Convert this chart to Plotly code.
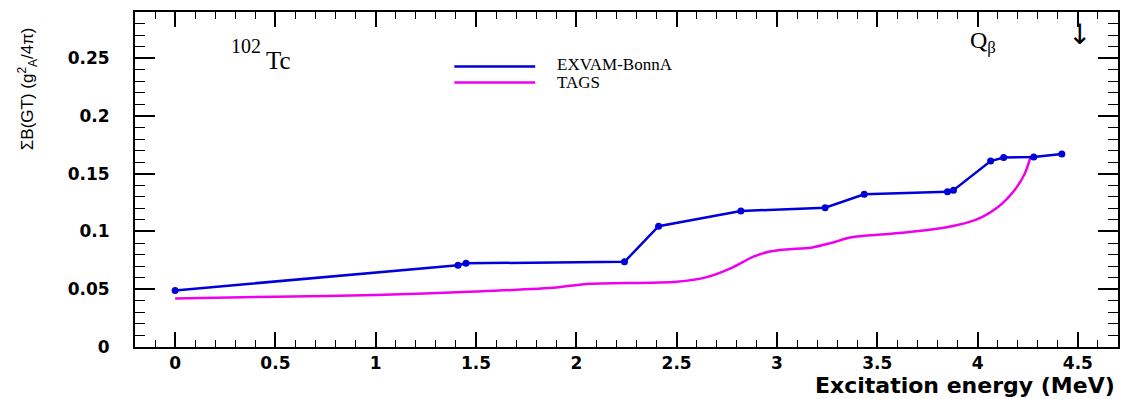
import plotly.graph_objects as go

# ---- data ----
exvam_x = [0.0, 1.41, 1.45, 2.24, 2.41, 2.82, 3.24, 3.435, 3.85, 3.88, 4.065, 4.13, 4.28, 4.42]
exvam_y = [0.049, 0.0708, 0.0725, 0.0737, 0.1046, 0.1178, 0.1205, 0.1322, 0.1343, 0.1358, 0.161, 0.164, 0.1645, 0.167]

tags_x = [0.0, 0.5, 1.0, 1.5, 1.9, 2.05, 2.5, 2.65, 2.78, 2.88, 2.96, 3.05, 3.17, 3.27, 3.37, 3.57, 3.84, 3.99, 4.10, 4.185, 4.235, 4.265]
tags_y = [0.042, 0.0435, 0.045, 0.048, 0.0515, 0.0545, 0.0565, 0.0605, 0.069, 0.078, 0.0825, 0.0845, 0.086, 0.090, 0.095, 0.098, 0.1035, 0.110, 0.121, 0.136, 0.150, 0.165]

x_ticks = [0, 0.5, 1, 1.5, 2, 2.5, 3, 3.5, 4, 4.5]
x_ticktext = ["0", "0.5", "1", "1.5", "2", "2.5", "3", "3.5", "4", "4.5"]
y_ticks = [0, 0.05, 0.1, 0.15, 0.2, 0.25]
y_ticktext = ["0", "0.05", "0.1", "0.15", "0.2", "0.25"]

series_names = ["EXVAM-BonnA", "TAGS"]
series_colors = ["#0000d8", "#ee00ee"]
q_beta = 4.51

fig = go.Figure()
fig.add_trace(go.Scatter(x=tags_x, y=tags_y, mode="lines", name=series_names[1],
                         line=dict(color=series_colors[1], width=2.5, shape="spline", smoothing=0.8)))
fig.add_trace(go.Scatter(x=exvam_x, y=exvam_y, mode="lines+markers", name=series_names[0],
                         line=dict(color=series_colors[0], width=2.5),
                         marker=dict(color=series_colors[0], size=7, symbol="circle")))

L, R, T, B = 135, 2, 12, 52
W, H = 1122, 399
pw, ph = W - L - R, H - T - B

def px(xp):
    return (xp - L) / pw

def py(yp):
    return (H - B - yp) / ph

# legend (drawn manually to match long line samples)
for i, (name, col) in enumerate(zip(series_names, series_colors)):
    yl = [66.5, 82.5][i]
    fig.add_shape(type="line", xref="paper", yref="paper",
                  x0=px(455), x1=px(536), y0=py(yl), y1=py(yl),
                  line=dict(color=col, width=2.5))
    fig.add_annotation(xref="paper", yref="paper", x=px(556), y=py([64, 82][i]),
                       text=name, showarrow=False, xanchor="left", yanchor="middle",
                       font=dict(family="Liberation Serif", size=17, color="black"))

# 102Tc label
fig.add_annotation(xref="paper", yref="paper", x=px(229), y=py(46), text="102",
                   showarrow=False, xanchor="left", yanchor="middle",
                   font=dict(family="Liberation Serif", size=20, color="black"))
fig.add_annotation(xref="paper", yref="paper", x=px(264), y=py(60), text="Tc",
                   showarrow=False, xanchor="left", yanchor="middle",
                   font=dict(family="Liberation Serif", size=25, color="black"))

# Q beta label and arrow
fig.add_annotation(xref="paper", yref="paper", x=px(970), y=py(42), text="Q<sub>β</sub>",
                   showarrow=False, xanchor="left", yanchor="middle",
                   font=dict(family="Liberation Serif", size=24, color="black"))
fig.add_annotation(xref="x", yref="paper", x=q_beta, y=py(34), text="↓",
                   showarrow=False, xanchor="center", yanchor="middle",
                   font=dict(family="DejaVu Sans", size=28, color="black"))

# y axis title
fig.add_annotation(xref="paper", yref="paper", x=px(27), y=py(89),
                   text="ΣB(GT) (g<sup>2</sup><sub>A</sub>/4π)", textangle=-90,
                   showarrow=False, xanchor="center", yanchor="middle",
                   font=dict(family="Liberation Sans", size=17, color="black"))
# x axis title
fig.add_annotation(xref="paper", yref="paper", x=px(1119), y=py(385),
                   text="Excitation energy (MeV)", showarrow=False,
                   xanchor="right", yanchor="middle",
                   font=dict(family="DejaVu Sans", size=22, color="black", weight="bold"))

fig.update_xaxes(range=[-0.2, 4.7], tickvals=x_ticks, ticktext=x_ticktext,
                 ticks="inside", ticklen=15, tickwidth=1.5, tickcolor="black",
                 showline=True, linecolor="black", linewidth=2, mirror="allticks",
                 showgrid=False, zeroline=False, ticklabelstandoff=0,
                 tickfont=dict(family="DejaVu Sans", size=17, color="black", weight="bold"),
                 minor=dict(dtick=0.1, tick0=0, ticks="inside", ticklen=7, tickwidth=1.2,
                            tickcolor="black", showgrid=False))
fig.update_yaxes(range=[0, 0.29], tickvals=y_ticks, ticktext=y_ticktext,
                 ticks="inside", ticklen=20, tickwidth=1.5, tickcolor="black",
                 showline=True, linecolor="black", linewidth=2, mirror="allticks",
                 showgrid=False, zeroline=False, ticklabelstandoff=20,
                 tickfont=dict(family="DejaVu Sans", size=17, color="black", weight="bold"),
                 minor=dict(dtick=0.01, tick0=0, ticks="inside", ticklen=10, tickwidth=1.2,
                            tickcolor="black", showgrid=False))

fig.update_layout(width=W, height=H, margin=dict(l=L, r=R, t=T, b=B),
                  paper_bgcolor="white", plot_bgcolor="white", showlegend=False)

fig.write_html("out.html", config={"displayModeBar": False},
               post_script="document.body.style.margin='0';")
